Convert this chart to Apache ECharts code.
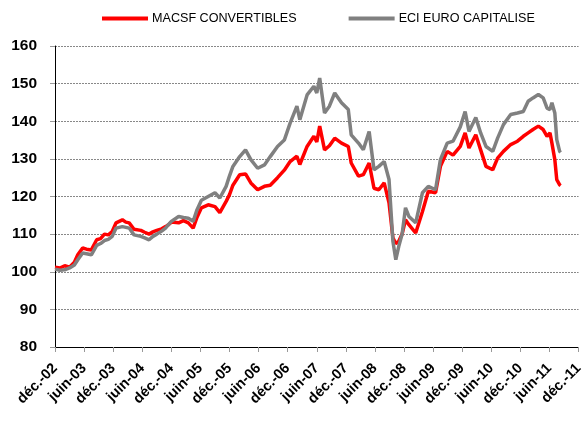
<!DOCTYPE html>
<html>
<head>
<meta charset="utf-8">
<script src="https://cdn.jsdelivr.net/npm/echarts@6/dist/echarts.min.js"></script>
<style>
html, body { margin: 0; padding: 0; background: #fff; }
#chart { width: 586px; height: 424px; }
</style>
</head>
<body>
<div id="chart"></div>
<script>
var myChart = echarts.init(document.getElementById('chart'));

// labels of the x axis, one every 6 months from déc.-02
var tickLabels = ['déc.-02', 'juin-03', 'déc.-03', 'juin-04', 'déc.-04', 'juin-05',
    'déc.-05', 'juin-06', 'déc.-06', 'juin-07', 'déc.-07', 'juin-08', 'déc.-08',
    'juin-09', 'déc.-09', 'juin-10', 'déc.-10', 'juin-11', 'déc.-11'];

// months since déc.-02
var months = [0, 1, 2, 3, 4, 4.7, 5.7, 6.5, 7.5, 8.6, 9.4, 10.2, 11, 11.8, 12.6, 13.9,
    14.6, 15.3, 16.3, 17.7, 18.5, 19.4, 20.2, 21, 22, 22.8, 23.4, 24, 25.5, 26.5, 27.5,
    28.5, 29.3, 30.2, 31.6, 33, 34, 35.3, 36, 36.7, 38.1, 39.3, 40.4, 41.8, 43.2, 44.4,
    45.9, 47.3, 48.5, 49.9, 50.5, 52, 53.4, 54, 54.6, 55.6, 56.6, 57.7, 59.1, 60.5, 61.1,
    62.6, 63.6, 64.8, 65.8, 66.8, 67.9, 68.9, 69.7, 70.3, 70.9, 71.6, 72.3, 73, 74.4,
    75.8, 77, 78.5, 79.5, 80.9, 82.1, 83.6, 84.6, 85.4, 86.8, 87.8, 88.9, 90.3, 91.3,
    92.5, 94, 95.4, 96.6, 97.6, 98.6, 99.7, 100.7, 101.5, 102.1, 102.5, 103.1, 103.5,
    104.1, 104.3];

var macsf = [101.2, 101.0, 101.6, 101.2, 102.5, 104.5, 106.3, 106.0, 105.8, 108.5, 108.8,
    110, 109.8, 110.7, 113, 113.8, 113.2, 113, 111.3, 111, 110.5, 110, 110.6, 111, 111.4,
    112, 112.5, 113.2, 113, 113.6, 113, 111.6, 114.5, 117, 117.8, 117.3, 115.7, 118.7,
    120.5, 123, 125.8, 126, 123.6, 121.8, 122.7, 123, 125, 127, 129.3, 130.7, 128.5,
    133.3, 136, 134.5, 138.7, 132.4, 133.5, 135.5, 134.2, 133.3, 128.9, 125.4, 125.8,
    128.9, 122.2, 121.8, 123.6, 118.3, 109, 107.5, 108.1, 110, 113.8, 112.5, 110.3, 116,
    121.4, 121, 128, 132, 131, 133.3, 136.9, 132.9, 136.4, 132.4, 128, 127.1, 130.2, 132,
    133.8, 134.7, 136, 136.9, 137.8, 138.7, 137.8, 136, 136.9, 134.2, 129.8, 124.5, 123.1,
    122.9];

var eci = [100.7, 100.4, 100.5, 101, 101.8, 103.2, 105, 104.8, 104.5, 107, 107.5, 108.3,
    108.6, 109.4, 111.6, 112, 111.8, 111.6, 109.8, 109.4, 109, 108.5, 109.4, 110, 110.8,
    111.6, 112.5, 113.4, 114.7, 114.4, 114.2, 113.4, 116.5, 119, 120, 121, 119.6, 122.7,
    125.5, 128, 130.6, 132.4, 129.8, 127.5, 128.4, 130.6, 133.3, 135, 139.5, 144, 140.4,
    147, 149.3, 147.5, 151.5, 142.2, 144, 147.5, 144.9, 143.1, 136.4, 134.2, 132.4, 137.3,
    127.1, 128, 129.3, 124.5, 108.1, 103.2, 106.7, 110, 117, 114.7, 113, 121, 122.7, 121.8,
    129.8, 134.2, 134.7, 138.5, 142.6, 137.3, 141, 136.9, 133.3, 132, 135.5, 139.1, 141.8,
    142.2, 142.6, 145.3, 146.2, 147.1, 146.2, 143.5, 143.1, 144.9, 142.2, 135.1, 132,
    131.7];

function pairs(values) {
    return values.map(function (v, i) { return [months[i], v]; });
}

option = {
    backgroundColor: '#fff',
    animation: false,
    textStyle: {
        fontFamily: 'Liberation Sans, Arial, sans-serif'
    },
    grid: {
        left: 55,
        right: 1,
        top: 46,
        bottom: 77
    },
    legend: {
        left: 97,
        top: 7,
        icon: 'rect',
        itemWidth: 46,
        itemHeight: 4,
        itemGap: 52,
        textStyle: {
            fontSize: 12.6,
            color: '#000',
            padding: [0, 0, 0, -1]
        },
        data: ['MACSF CONVERTIBLES', 'ECI EURO CAPITALISE']
    },
    xAxis: {
        type: 'value',
        min: 0,
        max: 108,
        interval: 6,
        axisLine: {
            lineStyle: { color: '#000', width: 1 }
        },
        axisTick: {
            length: 5,
            lineStyle: { color: '#999' }
        },
        splitLine: { show: false },
        axisLabel: {
            rotate: 45,
            margin: 19,
            fontSize: 14.5,
            fontWeight: 'bold',
            color: '#000',
            formatter: function (v) {
                return tickLabels[Math.round(v / 6)];
            }
        }
    },
    yAxis: {
        type: 'value',
        min: 80,
        max: 160,
        interval: 10,
        axisLine: {
            show: true,
            lineStyle: { color: '#000', width: 1 }
        },
        axisTick: {
            show: true,
            length: 5,
            lineStyle: { color: '#999' }
        },
        splitLine: {
            lineStyle: {
                color: '#888',
                type: [2, 1]
            }
        },
        axisLabel: {
            margin: 18,
            fontSize: 15.5,
            fontWeight: 'bold',
            color: '#000'
        }
    },
    series: [{
        name: 'MACSF CONVERTIBLES',
        type: 'line',
        data: pairs(macsf),
        showSymbol: false,
        color: '#ff0000',
        lineStyle: { width: 3.5, color: '#ff0000' }
    }, {
        name: 'ECI EURO CAPITALISE',
        type: 'line',
        data: pairs(eci),
        showSymbol: false,
        color: '#808080',
        lineStyle: { width: 3.5, color: '#808080' }
    }]
};
myChart.setOption(option);
</script>
</body>
</html>
